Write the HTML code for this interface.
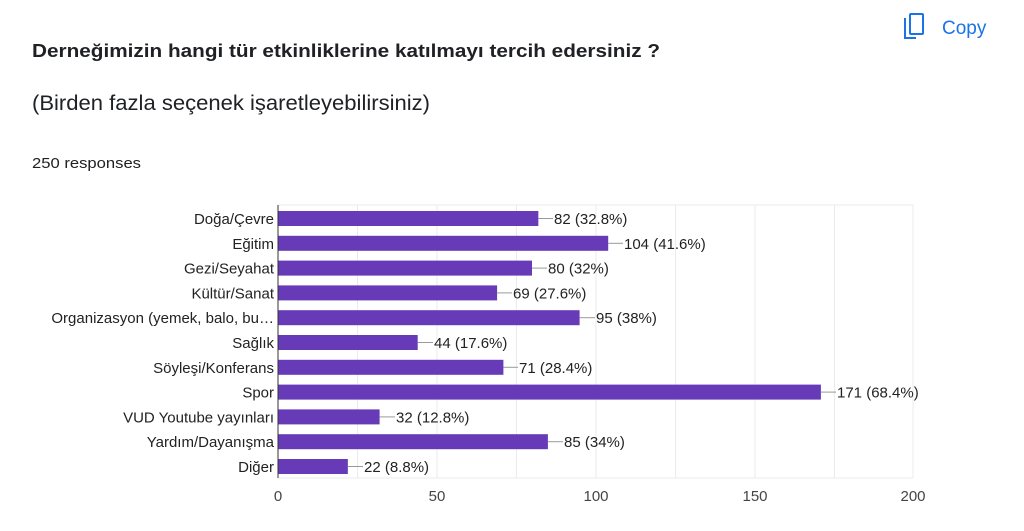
<!DOCTYPE html>
<html><head><meta charset="utf-8"><style>
body{margin:0;width:1024px;height:526px;background:#fff;overflow:hidden;font-family:"Liberation Sans",Arial,sans-serif;}
</style></head><body>
<svg width="1024" height="526" xmlns="http://www.w3.org/2000/svg" font-family="Liberation Sans, Arial, sans-serif">
<text x="32" y="57" font-size="18" font-weight="bold" fill="#202124" textLength="628" lengthAdjust="spacingAndGlyphs">Derneğimizin hangi tür etkinliklerine katılmayı tercih edersiniz ?</text>
<text x="32" y="110" font-size="21" fill="#202124" textLength="398" lengthAdjust="spacingAndGlyphs">(Birden fazla seçenek işaretleyebilirsiniz)</text>
<text x="32" y="168" font-size="15" fill="#202124" textLength="109" lengthAdjust="spacingAndGlyphs">250 responses</text>
<g stroke="#1a73e8" stroke-width="2" fill="none"><path d="M905 18v20h11"/><rect x="910" y="14" width="13" height="20" rx="1"/></g>
<text x="942" y="34" font-size="19" fill="#1a73e8">Copy</text>
<g stroke="#ebebeb" stroke-width="1">
<line x1="357.5" y1="205" x2="357.5" y2="478"/><line x1="437" y1="205" x2="437" y2="478"/><line x1="516.5" y1="205" x2="516.5" y2="478"/><line x1="596" y1="205" x2="596" y2="478"/><line x1="675.5" y1="205" x2="675.5" y2="478"/><line x1="755" y1="205" x2="755" y2="478"/><line x1="834.5" y1="205" x2="834.5" y2="478"/><line x1="913" y1="205" x2="913" y2="478"/>
<line x1="278" y1="205" x2="913" y2="205"/><line x1="278" y1="478" x2="913" y2="478"/>
</g>
<g fill="#673ab7">
<rect x="278" y="211" width="260.35" height="15"/>
<rect x="278" y="235.8" width="330.2" height="15"/>
<rect x="278" y="260.6" width="254" height="15"/>
<rect x="278" y="285.4" width="219.1" height="15"/>
<rect x="278" y="310.2" width="301.6" height="15"/>
<rect x="278" y="335" width="139.7" height="15"/>
<rect x="278" y="359.8" width="225.4" height="15"/>
<rect x="278" y="384.6" width="542.9" height="15"/>
<rect x="278" y="409.4" width="101.6" height="15"/>
<rect x="278" y="434.2" width="269.9" height="15"/>
<rect x="278" y="459" width="69.85" height="15"/>
</g>
<g stroke="#999" stroke-width="1">
<line x1="538.4" y1="218.5" x2="553" y2="218.5"/>
<line x1="608.2" y1="243.3" x2="623" y2="243.3"/>
<line x1="532" y1="268.1" x2="547" y2="268.1"/>
<line x1="497.1" y1="292.9" x2="512" y2="292.9"/>
<line x1="579.6" y1="317.7" x2="595" y2="317.7"/>
<line x1="417.7" y1="342.5" x2="433" y2="342.5"/>
<line x1="503.4" y1="367.3" x2="518" y2="367.3"/>
<line x1="820.9" y1="392.1" x2="836" y2="392.1"/>
<line x1="379.6" y1="416.9" x2="395" y2="416.9"/>
<line x1="547.9" y1="441.7" x2="563" y2="441.7"/>
<line x1="347.9" y1="466.5" x2="363" y2="466.5"/>
</g>
<g font-size="15" fill="#222">
<text x="554" y="224">82 (32.8%)</text>
<text x="624" y="248.8">104 (41.6%)</text>
<text x="548" y="273.6">80 (32%)</text>
<text x="513" y="298.4">69 (27.6%)</text>
<text x="596" y="323.2">95 (38%)</text>
<text x="434" y="348">44 (17.6%)</text>
<text x="519" y="372.8">71 (28.4%)</text>
<text x="837" y="397.6">171 (68.4%)</text>
<text x="396" y="422.4">32 (12.8%)</text>
<text x="564" y="447.2">85 (34%)</text>
<text x="364" y="472">22 (8.8%)</text>
</g>
<g font-size="15" fill="#222" text-anchor="end">
<text x="274" y="224">Doğa/Çevre</text>
<text x="274" y="248.8">Eğitim</text>
<text x="274" y="273.6">Gezi/Seyahat</text>
<text x="274" y="298.4">Kültür/Sanat</text>
<text x="274" y="323.2">Organizasyon (yemek, balo, bu…</text>
<text x="274" y="348">Sağlık</text>
<text x="274" y="372.8">Söyleşi/Konferans</text>
<text x="274" y="397.6">Spor</text>
<text x="274" y="422.4">VUD Youtube yayınları</text>
<text x="274" y="447.2">Yardım/Dayanışma</text>
<text x="274" y="472">Diğer</text>
</g>
<line x1="278" y1="205" x2="278" y2="478" stroke="#333" stroke-width="1"/>
<g font-size="15" fill="#444" text-anchor="middle">
<text x="278" y="501">0</text><text x="437" y="501">50</text><text x="596" y="501">100</text><text x="755" y="501">150</text><text x="913" y="501">200</text>
</g>
</svg>
</body></html>
